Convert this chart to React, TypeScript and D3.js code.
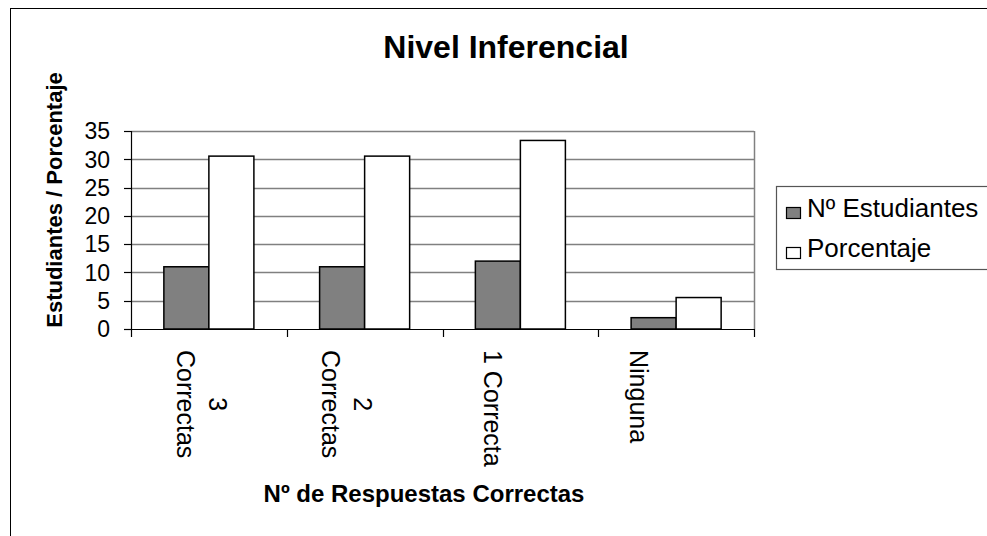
import React from 'react';
import * as d3 from 'd3';

const categories = ['3 Correctas', '2 Correctas', '1 Correcta', 'Ninguna'];
const categoryLabelLines = [['3', 'Correctas'], ['2', 'Correctas'], ['1 Correcta'], ['Ninguna']];
const estudiantes = [11, 11, 12, 2];
const porcentaje = [30.56, 30.56, 33.33, 5.56];
const seriesNames = ['Nº Estudiantes', 'Porcentaje'];
const seriesColors = ['#808080', '#ffffff'];
const yTicks = [0, 5, 10, 15, 20, 25, 30, 35];
const title = 'Nivel Inferencial';
const yTitle = 'Estudiantes / Porcentaje';
const xTitle = 'Nº de Respuestas Correctas';

const FONT = 'Liberation Sans, Arial, Helvetica, sans-serif';

function measure(text: string, font: string): number {
  const ctx = document.createElement('canvas').getContext('2d');
  if (!ctx) return text.length * 12;
  ctx.font = font;
  return ctx.measureText(text).width;
}

export default function App() {
  const W = 987, H = 536;
  const plot = { left: 131, right: 754, top: 131, bottom: 329 };

  const x = d3.scaleBand<string>().domain(categories).range([plot.left, plot.right]).paddingInner(0.422).paddingOuter(0.211);
  const xs = d3.scaleBand<string>().domain(seriesNames).range([0, x.bandwidth()]).padding(0);
  const y = d3.scaleLinear().domain([0, 35]).range([plot.bottom, plot.top]);
  const labelX = d3.scalePoint<string>().domain(categories).range([201.5, 638.5]);
  const catStep = x.step();
  const boundaries = d3.range(categories.length + 1).map(i => plot.left + i * catStep);

  const series = [estudiantes, porcentaje];
  const labelFontSize = 25;
  const labelFont = `${labelFontSize}px ${FONT}`;
  const lineH = 32;

  return (
    <svg width={W} height={H} style={{ position: 'absolute', left: 0, top: 0, background: '#fff' }} fontFamily={FONT}>
      <rect x={0} y={0} width={W} height={H} fill="#fff" />
      <rect x={10.5} y={8.5} width={1100} height={700} fill="#fff" stroke="#000" strokeWidth={1} />
      <text x={506} y={58} textAnchor="middle" fontSize={32} fontWeight="bold">{title}</text>

      {/* gridlines */}
      {yTicks.filter(t => t > 0).map(t => (
        <line key={'g' + t} x1={plot.left} x2={plot.right} y1={Math.round(y(t)) + 0.5} y2={Math.round(y(t)) + 0.5} stroke="#808080" strokeWidth={1.5} />
      ))}
      <line x1={plot.right + 0.5} x2={plot.right + 0.5} y1={plot.top} y2={plot.bottom} stroke="#808080" strokeWidth={1.5} />

      {/* bars */}
      {categories.map((c, i) => (
        <g key={c}>
          {series.map((vals, s) => (
            <rect key={s} x={(x(c) ?? 0) + (xs(seriesNames[s]) ?? 0)} y={y(vals[i])} width={xs.bandwidth()} height={y(0) - y(vals[i])}
              fill={seriesColors[s]} stroke="#000" strokeWidth={1.5} />
          ))}
        </g>
      ))}

      {/* axes */}
      <line x1={plot.left + 0.5} x2={plot.left + 0.5} y1={plot.top} y2={plot.bottom} stroke="#000" strokeWidth={1.2} />
      <line x1={plot.left - 7} x2={plot.right + 1} y1={plot.bottom + 0.5} y2={plot.bottom + 0.5} stroke="#000" strokeWidth={1.2} />
      {yTicks.map(t => (
        <g key={'t' + t}>
          <line x1={plot.left - 7} x2={plot.left} y1={Math.round(y(t)) + 0.5} y2={Math.round(y(t)) + 0.5} stroke="#000" strokeWidth={1.2} />
          <text x={110} y={y(t)} dy="0.36em" textAnchor="end" fontSize={23}>{t}</text>
        </g>
      ))}
      {boundaries.map((b, i) => (
        <line key={'b' + i} x1={Math.round(b) + 0.5} x2={Math.round(b) + 0.5} y1={plot.bottom} y2={plot.bottom + 8} stroke="#000" strokeWidth={1.2} />
      ))}

      {/* category labels, rotated */}
      {categories.map((c, i) => {
        const lines = categoryLabelLines[i];
        const maxLen = d3.max(lines, l => measure(l, labelFont)) ?? 0;
        const cy = 350 + maxLen / 2;
        const cx = labelX(c) ?? 0;
        const n = lines.length;
        return (
          <g key={'l' + c}>
            {lines.map((l, k) => {
              const bx = cx - 9 + ((n - 1) / 2 - k) * lineH;
              return (
                <text key={k} transform={`translate(${bx},${cy}) rotate(90)`} textAnchor="middle" fontSize={labelFontSize}>{l}</text>
              );
            })}
          </g>
        );
      })}

      <text transform={`translate(62,200) rotate(-90)`} textAnchor="middle" fontSize={22} fontWeight="bold">{yTitle}</text>
      <text x={424} y={502} textAnchor="middle" fontSize={24} fontWeight="bold">{xTitle}</text>

      {/* legend */}
      <rect x={776.5} y={186.5} width={300} height={83} fill="#fff" stroke="#555" strokeWidth={1.2} />
      {seriesNames.map((s, k) => (
        <g key={'lg' + s}>
          <rect x={786.5} y={207.5 + k * 40} width={14} height={11} fill={seriesColors[k]} stroke="#000" strokeWidth={1.2} />
          <text x={807} y={217 + k * 40} fontSize={26}>{s}</text>
        </g>
      ))}
    </svg>
  );
}
